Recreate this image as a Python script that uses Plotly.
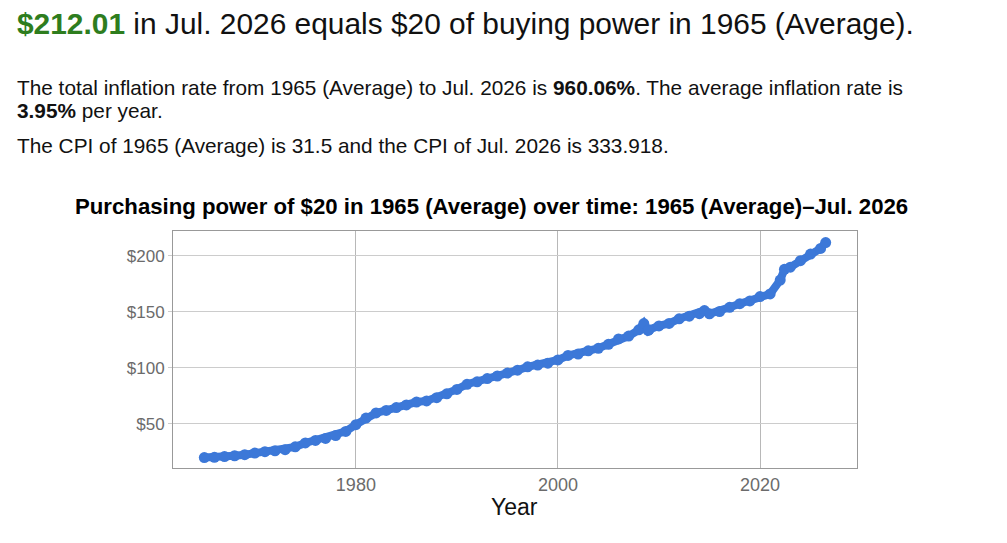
import plotly.graph_objects as go

# purchasing power of $20 (1965 average dollars)
years = [1965.0, 1966, 1967, 1968, 1969, 1970, 1971, 1972, 1973, 1974, 1975,
         1976, 1977, 1978, 1979, 1980, 1981, 1982, 1983, 1984, 1985, 1986,
         1987, 1988, 1989, 1990, 1991, 1992, 1993, 1994, 1995, 1996, 1997,
         1998, 1999, 2000, 2001, 2002, 2003, 2004, 2005, 2006, 2007, 2008,
         2008.5, 2008.92, 2009, 2010, 2011, 2012, 2013, 2014, 2014.5, 2015,
         2016, 2017, 2018, 2019, 2020, 2021, 2022, 2022.42, 2023, 2024,
         2025, 2026, 2026.5]
values = [20.00, 20.19, 20.89, 21.65, 22.60, 24.00, 25.27, 26.10, 27.05, 29.59,
          33.08, 35.30, 37.14, 39.68, 43.37, 49.40, 55.24, 59.87, 62.10, 64.70,
          66.98, 69.59, 70.60, 73.46, 76.89, 80.89, 85.46, 87.68, 90.54, 92.83,
          95.43, 98.03, 101.02, 102.60, 104.32, 107.17, 111.17, 112.44, 115.37,
          117.59, 121.08, 125.90, 128.51, 134.03, 139.66, 133.48, 134.06,
          137.58, 139.82, 143.91, 146.21, 148.52, 151.30, 148.39, 150.42,
          154.18, 157.38, 159.82, 163.79, 166.08, 178.51, 188.13, 189.95,
          195.82, 201.70, 206.70, 212.01]

x_ticks = [1980, 2000, 2020]
y_ticks = [50, 100, 150, 200]
y_labels = ["$50", "$100", "$150", "$200"]

W, H = 1007, 543
OFF = 8  # page body margin
L, R, T, B = 173 - OFF, 857 - OFF, 231 - OFF, 468 - OFF
FONT = "Liberation Sans, Arial, sans-serif"


def px(x):
    return (x - OFF - L) / (R - L)


def py(y):
    return (B - (y - OFF)) / (B - T)


fig = go.Figure()
fig.add_trace(go.Scatter(
    x=years, y=values, mode="lines+markers",
    line=dict(color="#3c78d8", width=8),
    marker=dict(color="#3c78d8", size=11),
    hoverinfo="x+y", showlegend=False,
))

texts = [
    (16, 23, '<span style="color:#2e7d1e"><b>$212.01</b></span> in Jul. 2026 equals $20 of buying power in 1965 (Average).', 29.9),
    (16, 87, "The total inflation rate from 1965 (Average) to Jul. 2026 is <b>960.06%</b>. The average inflation rate is", 20.8),
    (16, 111, "<b>3.95%</b> per year.", 20.8),
    (16, 145, "The CPI of 1965 (Average) is 31.5 and the CPI of Jul. 2026 is 333.918.", 20.8),
]
annotations = []
for xp, yp, t, s in texts:
    annotations.append(dict(
        x=px(xp), y=py(yp), xref="paper", yref="paper", text=t, showarrow=False,
        xanchor="left", yanchor="middle", borderpad=0,
        font=dict(family=FONT, size=s, color="#111111"),
    ))
annotations.append(dict(
    x=px(491), y=py(207), xref="paper", yref="paper", showarrow=False,
    text="<b>Purchasing power of $20 in 1965 (Average) over time: 1965 (Average)–Jul. 2026</b>",
    xanchor="center", yanchor="middle", font=dict(family=FONT, size=22.2, color="#000000"),
))
annotations.append(dict(
    x=px(514), y=py(507), xref="paper", yref="paper", showarrow=False, text="Year",
    xanchor="center", yanchor="middle", font=dict(family=FONT, size=23, color="#111111"),
))

fig.update_layout(
    width=W, height=H,
    margin=dict(l=L, r=W - R, t=T, b=H - B),
    paper_bgcolor="white", plot_bgcolor="white",
    font=dict(family=FONT),
    annotations=annotations,
    xaxis=dict(range=[1961.9, 2029.6], tickvals=x_ticks, showgrid=True,
               gridcolor="#b8b8b8", gridwidth=1, showline=True, linecolor="#999999",
               mirror=True, zeroline=False, ticks="",
               tickfont=dict(family=FONT, size=18, color="#6b6b6b")),
    yaxis=dict(range=[10.7, 222.3], tickvals=y_ticks, ticktext=y_labels, showgrid=True,
               gridcolor="#cccccc", gridwidth=1, showline=True, linecolor="#999999",
               mirror=True, zeroline=False, ticks="outside", ticklen=4, tickcolor="#cccccc",
               tickfont=dict(family=FONT, size=17, color="#6b6b6b")),
)

fig.write_html("out.html")
